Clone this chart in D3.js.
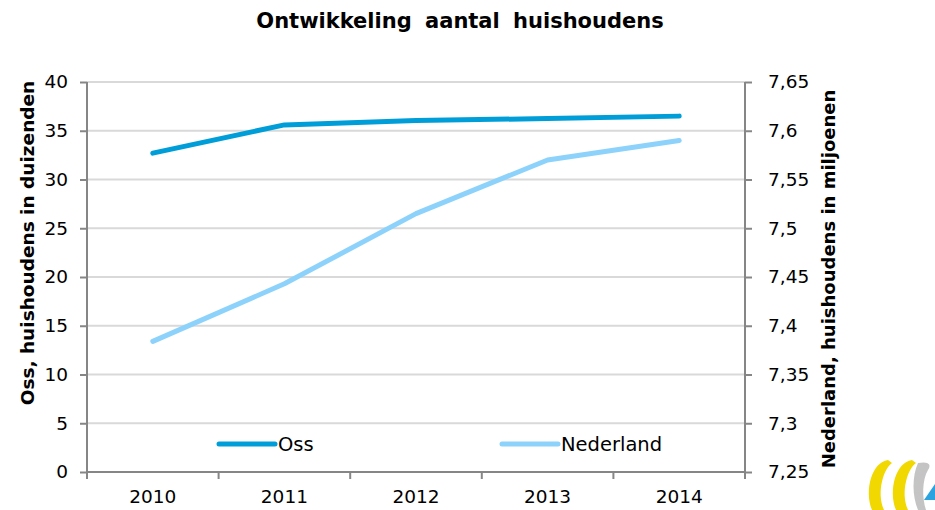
<!DOCTYPE html>
<html>
<head>
<meta charset="utf-8">
<script src="https://cdn.jsdelivr.net/npm/d3@7"></script>
<style>
  body { margin: 0; background: #fff; }
  svg { display: block; font-family: "DejaVu Sans", Tahoma, sans-serif; }
</style>
</head>
<body>
<div id="chart"></div>
<script>
const years = ["2010", "2011", "2012", "2013", "2014"];
const ossValues = [32.7, 35.6, 36.05, 36.25, 36.5];          // duizenden
const nederlandValues = [7.384, 7.443, 7.515, 7.570, 7.590]; // miljoenen
const leftTicks = [0, 5, 10, 15, 20, 25, 30, 35, 40];
const rightTicks = [7.25, 7.3, 7.35, 7.4, 7.45, 7.5, 7.55, 7.6, 7.65];

const W = 935, H = 510;
const M = {top: 82, right: 190, bottom: 38, left: 87};
const innerW = W - M.left - M.right;
const innerH = H - M.top - M.bottom;

const svg = d3.select("#chart").append("svg").attr("width", W).attr("height", H);
const g = svg.append("g").attr("transform", `translate(${M.left},${M.top})`);

const x = d3.scaleBand().domain(years).range([0, innerW]);
const yL = d3.scaleLinear().domain([0, 40]).range([innerH, 0]);
const yR = d3.scaleLinear().domain([7.25, 7.65]).range([innerH, 0]);

// gridlines
g.selectAll("line.grid").data(leftTicks.filter(d => d > 0)).join("line")
  .attr("class", "grid")
  .attr("x1", 0).attr("x2", innerW)
  .attr("y1", d => yL(d)).attr("y2", d => yL(d))
  .attr("stroke", "#d9d9d9").attr("stroke-width", 2);

const comma = d => String(d).replace(".", ",");

// axes
const axL = g.append("g").call(d3.axisLeft(yL).tickValues(leftTicks).tickSize(7).tickPadding(12));
const axR = g.append("g").attr("transform", `translate(${innerW},0)`)
  .call(d3.axisRight(yR).tickValues(rightTicks).tickSize(7).tickPadding(16).tickFormat(comma));
const axB = g.append("g").attr("transform", `translate(0,${innerH})`)
  .call(d3.axisBottom(x).tickSize(0).tickPadding(18));
// bottom ticks at category boundaries
g.selectAll("line.btick").data(d3.range(years.length + 1)).join("line")
  .attr("class", "btick")
  .attr("x1", i => i * x.step()).attr("x2", i => i * x.step())
  .attr("y1", innerH).attr("y2", innerH + 7)
  .attr("stroke", "#868686").attr("stroke-width", 2);

[axL, axR, axB].forEach(a => {
  a.attr("font-family", null);
  a.selectAll(".domain").attr("stroke", "#868686").attr("stroke-width", 2);
  a.selectAll(".tick line").attr("stroke", "#868686").attr("stroke-width", 2);
  a.selectAll("text").attr("font-size", 18.5).attr("fill", "#000");
});
axB.select(".domain").attr("d", `M0,0H${innerW}`);
axL.select(".domain").attr("d", `M0,0V${innerH}`);
axR.select(".domain").attr("d", `M0,0V${innerH}`);

// lines
const cx = d => x(d) + x.bandwidth() / 2;
const lineL = d3.line().x((d, i) => cx(years[i])).y(d => yL(d));
const lineR = d3.line().x((d, i) => cx(years[i])).y(d => yR(d));

g.append("path").datum(nederlandValues).attr("d", lineR)
  .attr("fill", "none").attr("stroke", "#8dd2fb").attr("stroke-width", 5)
  .attr("stroke-linecap", "round").attr("stroke-linejoin", "round");
g.append("path").datum(ossValues).attr("d", lineL)
  .attr("fill", "none").attr("stroke", "#009ed8").attr("stroke-width", 5)
  .attr("stroke-linecap", "round").attr("stroke-linejoin", "round");

// legend
const legend = [
  {name: "Oss", color: "#009ed8", x: 219},
  {name: "Nederland", color: "#8dd2fb", x: 502}
];
const lg = svg.append("g").attr("transform", "translate(0,444)");
lg.selectAll("line").data(legend).join("line")
  .attr("x1", d => d.x).attr("x2", d => d.x + 56)
  .attr("y1", 0).attr("y2", 0)
  .attr("stroke", d => d.color).attr("stroke-width", 5).attr("stroke-linecap", "round");
lg.selectAll("text").data(legend).join("text")
  .attr("x", d => d.x + 59).attr("y", 7)
  .attr("font-size", 19.5).text(d => d.name);

// title
svg.append("text").attr("x", 460).attr("y", 28).attr("text-anchor", "middle")
  .attr("font-size", 21).attr("font-weight", "bold").attr("word-spacing", 6)
  .text("Ontwikkeling aantal huishoudens");

// axis titles
svg.append("text").attr("transform", `translate(34,243) rotate(-90)`)
  .attr("text-anchor", "middle").attr("font-size", 18.5).attr("font-weight", "bold")
  .text("Oss, huishoudens in duizenden");
svg.append("text").attr("transform", `translate(835,279) rotate(-90)`)
  .attr("text-anchor", "middle").attr("font-size", 18).attr("font-weight", "bold")
  .text("Nederland, huishoudens in miljoenen");

// logo (bottom right corner)
const logo = svg.append("g").attr("transform", "translate(866,460)");
const ring = (x0, w) => `M${x0 + 22},0 C${x0 + 6},2 ${x0 - 2},30 ${x0 + 6},50 L${x0 + 6 + w},50 C${x0 + w - 2},32 ${x0 + w + 6},8 ${x0 + 26},3 Z`;
logo.append("path").attr("d", ring(0, 12)).attr("fill", "#f0d800");
logo.append("path").attr("d", ring(24, 12)).attr("fill", "#f0d800");
logo.append("path").attr("d", "M52,3 C62,1 66,4 62,10 C56,20 56,38 60,50 L52,50 C46,36 46,16 52,3 Z").attr("fill", "#c4c4c4");
logo.append("path").attr("d", "M69,24 L58,40 L69,40 Z").attr("fill", "#2aa3e0");
</script>
</body>
</html>
